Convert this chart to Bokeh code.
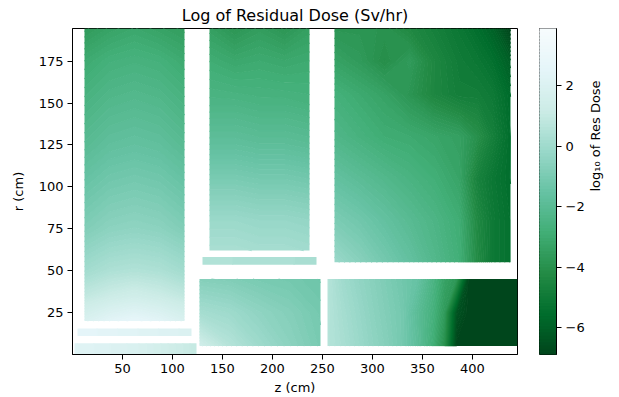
import numpy as np
from bokeh.plotting import figure
from bokeh.layouts import row
from bokeh.models import FixedTicker, Range1d
from bokeh.palettes import BuGn9
from bokeh.embed import file_html
from bokeh.resources import INLINE

FONT = "DejaVu Sans"

# Colour scale of the dose map (log10 of Sv/hr)
dose_min, dose_max = -6.89, 3.9
n_levels = 100

z_ticks = [50, 100, 150, 200, 250, 300, 350, 400]
r_ticks = [25, 50, 75, 100, 125, 150, 175]
bar_ticks = [-6, -4, -2, 0, 2]

# Each mesh region: axial nodes (cm), radial nodes (cm), log10 dose on the r x z grid

# inner column
core_z = [12, 37, 62, 87, 112]
core_r = [20, 35, 50, 75, 100, 125, 150, 175, 194.5]
core_dose = [
    [1.9, 2.4, 2.7, 2.4, 1.9],
    [0.9, 1.2, 1.4, 1.2, 0.9],
    [0.1, 0.4, 0.5, 0.4, 0.1],
    [-0.8, -0.5, -0.4, -0.5, -0.8],
    [-1.4, -1.1, -1.0, -1.1, -1.4],
    [-2.0, -1.7, -1.6, -1.7, -2.0],
    [-2.5, -2.2, -2.1, -2.2, -2.5],
    [-3.0, -2.7, -2.6, -2.7, -3.0],
    [-3.6, -3.3, -3.1, -3.3, -3.5],
]

# thin plate under the column
plate_z = [5, 119]
plate_r = [11, 15.5]
plate_dose = [
    [2.6, 2.0],
    [2.6, 2.0],
]

# base strip on the axis
base_z = [2, 63, 124]
base_r = [0, 6.7]
base_dose = [
    [2.3, 1.9, 1.0],
    [2.3, 1.9, 1.0],
]

# middle column
mid_z = [137, 162, 187, 212, 237]
mid_r = [62, 80, 100, 125, 150, 175, 194.5]
mid_dose = [
    [0.3, 0.3, 0.2, 0.2, 0.1],
    [-0.1, -0.1, -0.2, -0.2, -0.3],
    [-0.8, -0.8, -0.9, -0.9, -1.0],
    [-1.7, -1.7, -1.8, -1.8, -1.9],
    [-2.4, -2.4, -2.5, -2.5, -2.6],
    [-2.9, -3.1, -3.0, -3.1, -3.0],
    [-3.4, -3.8, -3.5, -3.8, -3.4],
]

# middle plate
midplate_z = [130, 244]
midplate_r = [53.6, 58.2]
midplate_dose = [
    [0.5, 0.3],
    [0.5, 0.3],
]

# lower middle block
lowmid_z = [127, 157, 187, 217, 248]
lowmid_r = [5, 25, 45]
lowmid_dose = [
    [1.4, 0.6, 0.0, -0.5, -1.0],
    [0.2, 0.0, -0.4, -0.7, -1.1],
    [-0.7, -0.8, -1.0, -1.1, -1.3],
]

# lower outer block
lowout_z = [255, 270, 285, 300, 315, 330, 345, 360, 372, 384, 396, 445]
lowout_r = [5, 25, 45]
lowout_dose = [
    [0.6, 0.3, -0.05, -0.4, -0.7, -1.1, -1.8, -2.8, -4.0, -6.85, -6.85, -6.85],
    [0.6, 0.2, -0.15, -0.5, -0.8, -1.1, -1.9, -2.6, -3.6, -6.4, -6.85, -6.85],
    [0.6, 0.05, -0.3, -0.6, -0.9, -1.2, -1.5, -2.4, -3.3, -3.7, -6.85, -6.85],
]

# upper outer block
upout_z = [262, 287, 312, 337, 362, 387, 405, 420, 438]
upout_r = [55, 80, 105, 130, 155, 175, 194.5]
upout_dose = [
    [-0.1, -0.6, -1.1, -1.6, -2.2, -2.8, -4.2, -5.0, -5.4],
    [-0.9, -1.2, -1.6, -2.0, -2.4, -2.9, -4.3, -5.0, -5.4],
    [-1.6, -1.9, -2.2, -2.5, -2.8, -3.25, -4.6, -5.1, -5.5],
    [-2.3, -2.6, -2.9, -3.0, -3.2, -3.4, -4.0, -4.7, -5.5],
    [-2.7, -3.0, -3.3, -3.8, -4.4, -4.8, -4.8, -5.0, -5.6],
    [-3.3, -3.6, -4.1, -3.6, -4.4, -4.9, -5.1, -5.4, -6.0],
    [-3.8, -3.8, -3.9, -4.3, -4.7, -5.1, -5.5, -5.9, -6.85],
]

regions = [
    (core_z, core_r, core_dose),
    (plate_z, plate_r, plate_dose),
    (base_z, base_r, base_dose),
    (mid_z, mid_r, mid_dose),
    (midplate_z, midplate_r, midplate_dose),
    (lowmid_z, lowmid_r, lowmid_dose),
    (lowout_z, lowout_r, lowout_dose),
    (upout_z, upout_r, upout_dose),
]

# Filled contour levels and reversed BuGn colours (dark = low dose)
levels = np.linspace(dose_min, dose_max, n_levels + 1)
mids = 0.5 * (levels[:-1] + levels[1:])
stops = np.array([[int(c[i:i + 2], 16) for i in (1, 3, 5)] for c in BuGn9], float)


def bugn(values):
    pos = (np.asarray(values) - dose_min) / (dose_max - dose_min) * (len(stops) - 1)
    rgb = np.stack([np.interp(pos, np.arange(len(stops)), stops[:, k]) for k in range(3)], axis=1)
    return ["#%02x%02x%02x" % tuple(int(round(v)) for v in c) for c in rgb]


fill_palette = bugn(mids)
# contour lines coloured like the bands they separate, so no seams show
line_palette = bugn(levels)

p = figure(
    width=530, height=397,
    x_range=Range1d(0, 445), y_range=Range1d(0, 194.5),
    title="Log of Residual Dose (Sv/hr)",
    output_backend="svg", toolbar_location=None,
    min_border_left=72, min_border_right=13, min_border_top=27, min_border_bottom=42,
)
p.title.align = "center"
p.title.text_font = FONT
p.title.text_font_size = "16px"
p.title.text_font_style = "normal"
p.title.text_color = "black"
p.title.text_line_height = 0.85
p.title.standoff = 7

for zs, rs, dose in regions:
    p.contour(
        np.array(zs, float), np.array(rs, float), np.array(dose, float),
        levels=levels, fill_color=fill_palette,
        line_color=line_palette, line_width=1.2,
    )

p.xaxis.ticker = FixedTicker(ticks=z_ticks)
p.yaxis.ticker = FixedTicker(ticks=r_ticks)
p.xaxis.axis_label = "z (cm)"
p.yaxis.axis_label = "r (cm)"
for ax in (p.xaxis[0], p.yaxis[0]):
    ax.major_tick_out = 5
    ax.major_tick_in = 0
    ax.minor_tick_out = 0
    ax.minor_tick_in = 0
    ax.axis_line_color = "black"
    ax.major_tick_line_color = "black"
    ax.major_label_text_font = FONT
    ax.major_label_text_font_size = "13px"
    ax.major_label_text_color = "black"
    ax.axis_label_text_font = FONT
    ax.axis_label_text_font_size = "13px"
    ax.axis_label_text_font_style = "normal"
    ax.axis_label_text_color = "black"
p.xaxis.major_label_standoff = 4
p.xaxis.axis_label_standoff = 4
p.yaxis.major_label_standoff = 4
p.yaxis.axis_label_standoff = 10
p.grid.visible = False
p.outline_line_color = "black"
p.background_fill_color = "white"
p.border_fill_color = "white"

# Colour bar drawn from the same levels
cb = figure(
    width=89, height=397,
    x_range=Range1d(0, 1), y_range=Range1d(dose_min, dose_max),
    x_axis_location=None, y_axis_location="right",
    output_backend="svg", toolbar_location=None,
    min_border_left=9, min_border_right=63, min_border_top=27, min_border_bottom=42,
)
cb.quad(left=0, right=1, bottom=levels[:-1], top=levels[1:],
        fill_color=fill_palette, line_color=fill_palette, line_width=1.5)
cax = cb.yaxis[0]
cax.ticker = FixedTicker(ticks=bar_ticks)
cax.major_label_overrides = {t: (str(t).replace("-", "\u2212")) for t in bar_ticks}
cax.major_tick_out = 5
cax.major_tick_in = 0
cax.minor_tick_out = 0
cax.minor_tick_in = 0
cax.major_label_standoff = 4
cax.major_label_text_font = FONT
cax.major_label_text_font_size = "13px"
cax.major_label_text_color = "black"
cax.axis_line_color = "black"
cax.axis_label = "log\u2081\u2080 of Res Dose"
cax.axis_label_text_font = FONT
cax.axis_label_text_font_size = "13px"
cax.axis_label_text_font_style = "normal"
cax.axis_label_text_color = "black"
cax.axis_label_standoff = 8
cax.axis_label_orientation = np.pi / 2
cb.grid.visible = False
cb.outline_line_color = "black"
cb.border_fill_color = "white"

layout = row(p, cb)
open("out.html", "w").write(file_html(layout, INLINE))
